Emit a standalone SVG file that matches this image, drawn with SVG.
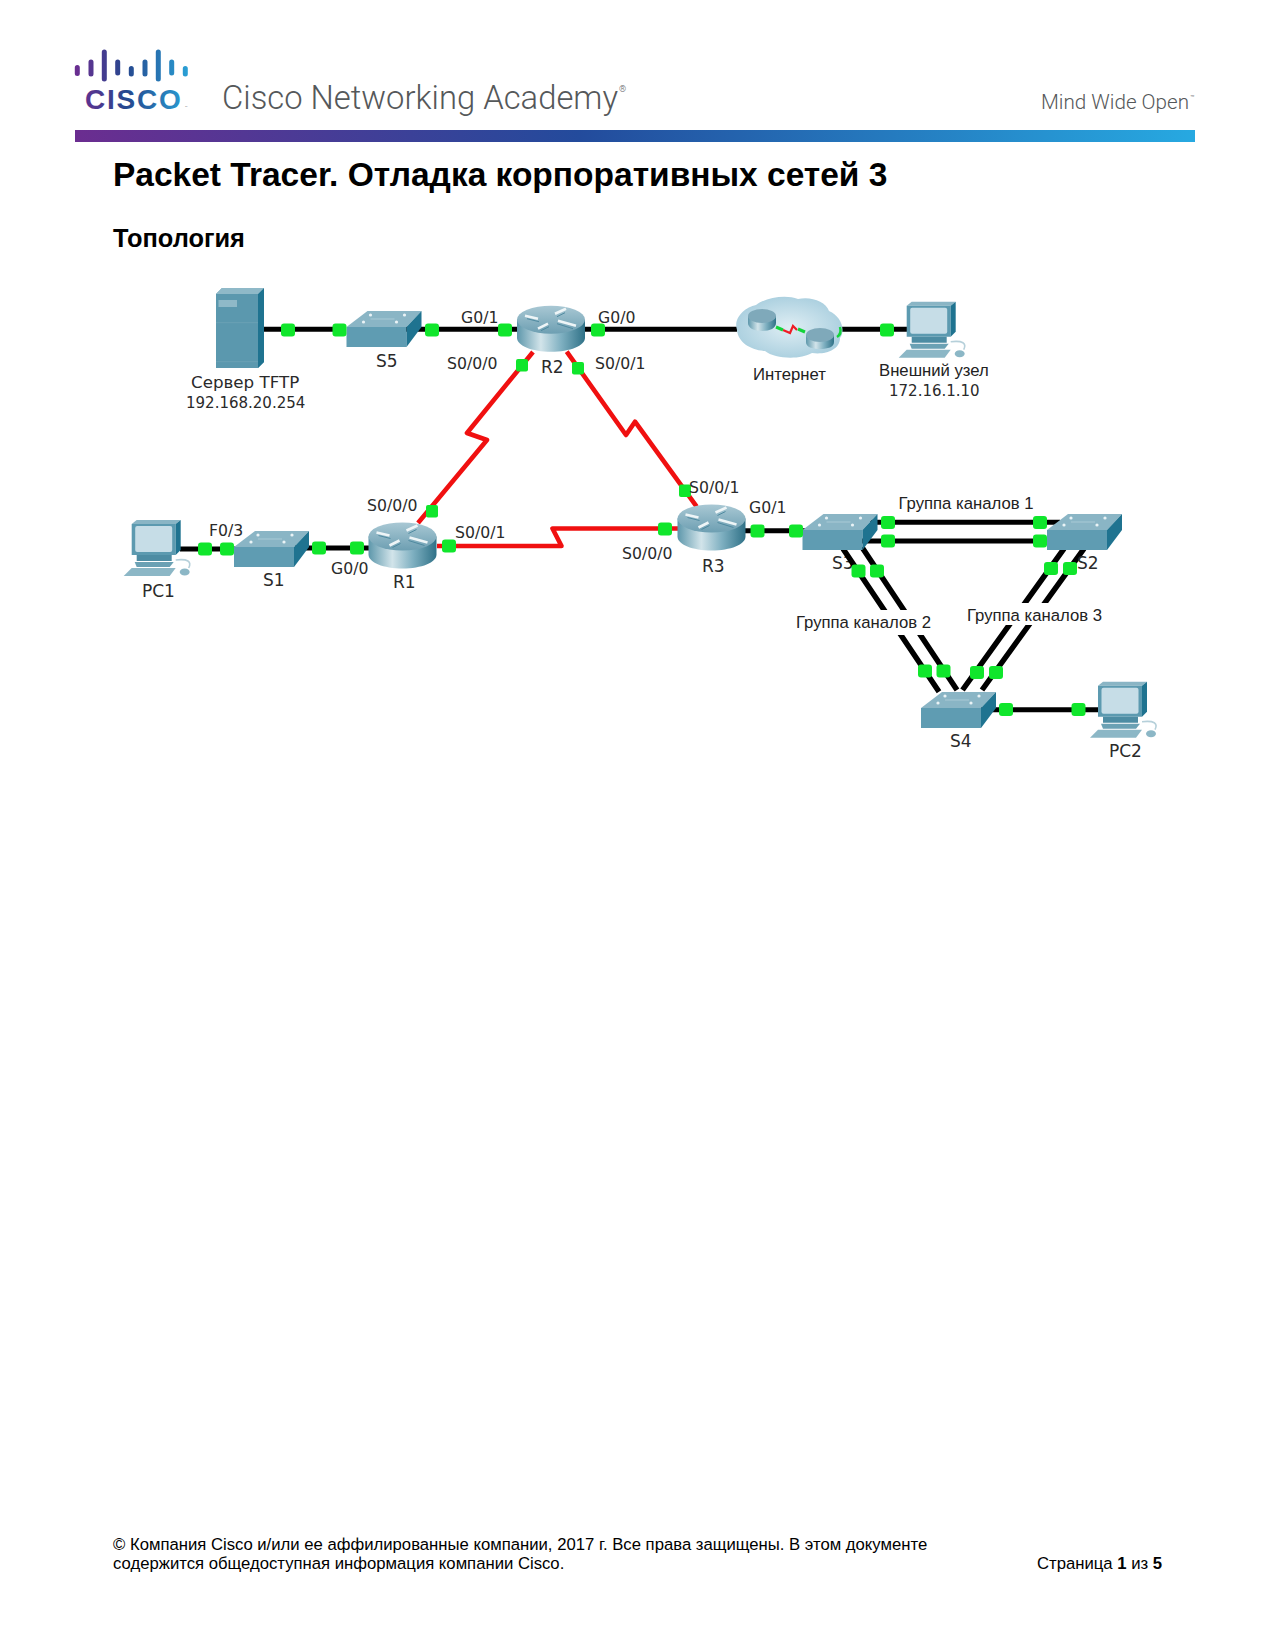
<svg xmlns="http://www.w3.org/2000/svg" width="1275" height="1651" viewBox="0 0 1275 1651">
<style>
text{font-family:"Liberation Sans",Arial,sans-serif;fill:#000}
.h{font-weight:bold}
.d{font-family:"DejaVu Sans",Verdana,sans-serif;font-size:15.700px;fill:#2a2a2a}
.n{font-size:17px}
.ip{font-size:15px;font-weight:500}
.g{font-size:16.700px;fill:#222}
.logo{font-family:Roboto,"Liberation Sans",sans-serif;font-weight:300;fill:#55585a}
.blk{fill:none;stroke:#000;stroke-width:5}
.diag{stroke-width:5.500}
.red{fill:none;stroke:#f01010;stroke-width:4.600;stroke-linejoin:round}
.ports rect{fill:#10e62c}
</style>
<defs>
<linearGradient id="bar"><stop offset="0" stop-color="#6b2d90"/><stop offset=".45" stop-color="#234b9c"/><stop offset="1" stop-color="#27a9e1"/></linearGradient>
<linearGradient id="logoG" gradientUnits="userSpaceOnUse" x1="75" x2="190" y1="0" y2="0"><stop offset="0" stop-color="#6b2d90"/><stop offset=".45" stop-color="#25488f"/><stop offset="1" stop-color="#2aa3d8"/></linearGradient>
<linearGradient id="rt"><stop offset="0" stop-color="#5d97ab"/><stop offset=".35" stop-color="#d2e4ea"/><stop offset=".65" stop-color="#7fb0c1"/><stop offset="1" stop-color="#2f7187"/></linearGradient>
<linearGradient id="rtop" x1="0" y1="0" x2="0" y2="1"><stop offset="0" stop-color="#a9c8d4"/><stop offset="1" stop-color="#6d9fb2"/></linearGradient>
<radialGradient id="cl" cx=".5" cy=".5" r=".6"><stop offset="0" stop-color="#dfeef4"/><stop offset="1" stop-color="#a3cbdc"/></radialGradient>
<g id="router">
<path d="M-34-9V9C-34 17-19 23 0 23S34 17 34 9V-9Z" fill="url(#rt)"/>
<ellipse cx="0" cy="-9" rx="34" ry="14" fill="url(#rtop)"/>
<path d="M-26-13L-13-10M4-15L15-20M7-8L25-3M-13 0L-3-5" stroke="#eef5f7" stroke-width="2.600" fill="none"/>
<path d="M-24-10L-12-7M6-12L14-16M6-5L22 0M-10 2L-2-2" stroke="#4f8aa0" stroke-width="1" fill="none"/>
</g>
<g id="switch">
<path d="M0 0H60V20H0Z" fill="#5f9cb2"/>
<path d="M0 0L21-16H75L60 0Z" fill="#8ab5c5"/>
<path d="M60 0L75-16V0L60 20Z" fill="#1f7390"/>
<g fill="#eaf3f6"><circle cx="24" cy="-12" r="1.600"/><circle cx="58" cy="-12" r="1.600"/><circle cx="17" cy="-5" r="1.600"/><circle cx="50" cy="-5" r="1.600"/></g>
<path d="M24-8H48" stroke="#a9cad6" stroke-width="1"/>
</g>
<g id="pc">
<path d="M0 4L5 0H49L44 4Z" fill="#8ab5c5"/>
<path d="M0 4H44V35H0Z" fill="#5c9ab0"/>
<path d="M44 4L49 0V30L44 35Z" fill="#1f7390"/>
<rect x="3.500" y="6" width="37" height="26" rx="2" fill="#c6dde7"/>
<path d="M5 35H40V41H5Z" fill="#4d8ca3"/>
<path d="M3 42H42L38 47H5Z" fill="#6ba1b4"/>
<path d="M0 48H44L38 56H-8Z" fill="#8cb7c6"/>
<path d="M44 40Q62 38 57 48" fill="none" stroke="#b6d0da" stroke-width="1.600"/>
<ellipse cx="53" cy="52" rx="5" ry="3.500" fill="#8cb7c6"/>
</g>
</defs>

<g id="header">
<path d="M77.300 67.500V73.500M91 62V74M104.300 52V79M117.700 62V73M131.300 68.500V74M145 62V74M158.300 52V79M171.700 62V73M185.300 68.500V74" stroke="url(#logoG)" stroke-linecap="round" stroke-width="5" fill="none"/>
<text x="85" y="109" font-size="28" font-weight="bold" style="fill:url(#logoG);letter-spacing:1.800px">CISCO</text>
<text class="logo" x="185" y="109" font-size="4">™</text>
<text class="logo" x="222" y="109" font-size="33" textLength="396" lengthAdjust="spacingAndGlyphs">Cisco Networking Academy</text>
<text class="logo" x="619" y="92" font-size="9">®</text>
<text class="logo" x="1041" y="109" font-size="20" textLength="148" lengthAdjust="spacingAndGlyphs">Mind Wide Open</text>
<text class="logo" x="1190" y="100" font-size="7">™</text>
<rect x="75" y="130" width="1120" height="12" fill="url(#bar)"/>
</g>
<text class="h" x="113" y="186" font-size="33.500">Packet Tracer. Отладка корпоративных сетей 3</text>
<text class="h" x="113" y="247" font-size="25.400">Топология</text>

<g id="labels-under">
<text class="d n" x="832" y="569">S3</text>
</g>

<g id="connectors">
<path class="blk" d="M262 329.300H346M406 329.300H520M580 329.300H737M840 329.300H910"/>
<path class="blk" d="M180 549H236M295 548H370"/>
<path class="blk" d="M744 530.700H805M870 522.300H1060M860 541H1050"/>
<path class="blk diag" d="M843 548.700L939 691.700M862 547.300L957 690M1064 548.700L962.500 690M1084 548.700L982 690"/>
<path class="blk" d="M978 709.700H1100"/>
<path class="red" d="M533 352L467 433L487 440L418 523"/>
<path class="red" d="M566.700 351.700L626 435L635 421.700L696.700 506.700"/>
<path class="red" d="M437 546H561.500L552.500 528.500H680"/>
</g>

<g id="Server"><path d="M216 294L222 288H264V362L258 368H216Z" fill="#5b98ae"/><path d="M258 294L264 288V362L258 368Z" fill="#1f7390"/><path d="M216 294L222 288H264L258 294Z" fill="#8fb9c8"/><rect x="218.500" y="300" width="18.500" height="7" fill="#8fb9c8"/><path d="M216 322.700H258M216 361.700H258" stroke="#6ba1b4" stroke-width="1"/><text class="d" style="font-size:16.700px" x="191" y="388">Сервер TFTP</text><text class="d ip" x="186" y="408">192.168.20.254</text></g>
<g id="S5"><use href="#switch" x="346.500" y="327"/><text class="d n" x="376" y="367">S5</text></g>
<g id="R2"><use href="#router" x="551" y="328.700"/><text class="d n" x="541" y="373">R2</text></g>
<g id="Internet">
<path d="M737 330C733 318 745 307 756 305C765 298 785 294 798 299C810 296 826 301 829 311C841 316 846 330 840 338C840 350 825 355 812 353C800 360 775 359 765 351C750 350 738 342 737 330Z" fill="url(#cl)"/>
<g><path d="M748 316V323C748 328 754 331 762 331S776 328 776 323V316Z" fill="url(#rt)"/><ellipse cx="762" cy="316" rx="14" ry="7" fill="#7fa9ba"/></g>
<path d="M783 330L790 333L793 326L797 330" fill="none" stroke="#ee1c25" stroke-width="2.200"/>
<path d="M776 327L783 330M798 329L805 332" stroke="#13d43a" stroke-width="3"/>
<g><path d="M806 335V342C806 347 812 349 820 349S834 347 834 342V335Z" fill="url(#rt)"/><ellipse cx="820" cy="335" rx="14" ry="7" fill="#7fa9ba"/></g>
<path d="M837 337Q842 334 840 327" stroke="#13d43a" stroke-width="2.500" fill="none"/>
<text class="g" x="753" y="380">Интернет</text>
</g>
<g id="ExternalHost"><use href="#pc" x="906.700" y="301.700"/><text class="g" x="879" y="376">Внешний узел</text><text class="d ip" x="889" y="396">172.16.1.10</text></g>
<g id="PC1"><use href="#pc" x="131.700" y="520"/><text class="d n" x="142" y="597">PC1</text></g>
<g id="S1"><use href="#switch" x="234" y="547"/><text class="d n" x="263" y="586">S1</text></g>
<g id="R1"><use href="#router" x="402.500" y="545.500"/><text class="d n" x="393" y="588">R1</text></g>
<g id="R3"><use href="#router" x="711.500" y="527.500"/><text class="d n" x="702" y="572">R3</text></g>
<g id="S3"><use href="#switch" x="802.500" y="530"/></g>
<g id="S2"><use href="#switch" x="1047" y="530"/><text class="d n" x="1077" y="569">S2</text></g>
<g id="S4"><use href="#switch" x="921" y="708"/><text class="d n" x="950" y="747">S4</text></g>
<g id="PC2"><use href="#pc" x="1098" y="681.700"/><text class="d n" x="1109" y="757">PC2</text></g>

<g id="ports" class="ports">
<rect x="281" y="323.500" width="14" height="13" rx="3"/><rect x="332.500" y="323.500" width="14" height="13" rx="3"/><rect x="425" y="323.500" width="14" height="13" rx="3"/><rect x="498" y="323.500" width="14" height="13" rx="3"/><rect x="591" y="323.500" width="14" height="13" rx="3"/><rect x="880" y="323.500" width="14" height="13" rx="3"/>
<rect x="516" y="359" width="12" height="12.500" rx="2"/><rect x="572" y="362" width="12" height="12.500" rx="2"/><rect x="426" y="505" width="12" height="12.500" rx="2"/><rect x="679" y="484.500" width="12" height="12.500" rx="2"/>
<rect x="198" y="542.500" width="14" height="13" rx="3"/><rect x="220" y="542.500" width="14" height="13" rx="3"/><rect x="312" y="541.500" width="14" height="13" rx="3"/><rect x="350" y="541.500" width="14" height="13" rx="3"/><rect x="442" y="539.500" width="14" height="13" rx="3"/>
<rect x="658" y="522.500" width="14" height="13" rx="3"/><rect x="750.500" y="524.500" width="14" height="13" rx="3"/><rect x="789" y="524.500" width="14" height="13" rx="3"/>
<rect x="881" y="516" width="14" height="13" rx="3"/><rect x="881" y="534.500" width="14" height="13" rx="3"/><rect x="1033" y="516" width="14" height="13" rx="3"/><rect x="1033" y="534.500" width="14" height="13" rx="3"/>
<rect x="851.500" y="564.500" width="14" height="13" rx="3"/><rect x="870" y="564.500" width="14" height="13" rx="3"/><rect x="1044" y="562" width="14" height="13" rx="3"/><rect x="1063" y="562" width="14" height="13" rx="3"/>
<rect x="918" y="664.500" width="14" height="13" rx="3"/><rect x="936.500" y="664.500" width="14" height="13" rx="3"/><rect x="970" y="666" width="14" height="13" rx="3"/><rect x="989" y="666" width="14" height="13" rx="3"/>
<rect x="999" y="703" width="14" height="13" rx="3"/><rect x="1071.500" y="703" width="14" height="13" rx="3"/>
</g>

<g id="link-labels">
<text class="d" x="461" y="323">G0/1</text><text class="d" x="598" y="323">G0/0</text><text class="d" x="447" y="369">S0/0/0</text><text class="d" x="595" y="369">S0/0/1</text>
<text class="d" x="367" y="511">S0/0/0</text><text class="d" x="455" y="538">S0/0/1</text><text class="d" x="209" y="536">F0/3</text><text class="d" x="331" y="574">G0/0</text>
<text class="d" x="689" y="493">S0/0/1</text><text class="d" x="749" y="513">G0/1</text><text class="d" x="622" y="559">S0/0/0</text>
<rect x="795" y="610" width="135" height="25" fill="#fff"/><rect x="966" y="603" width="135" height="22" fill="#fff"/>
<text class="g" x="898.500" y="509">Группа каналов 1</text><text class="g" x="796" y="628">Группа каналов 2</text><text class="g" x="967" y="621">Группа каналов 3</text>
</g>

<g id="footer" font-size="16.700">
<text x="113" y="1550">© Компания Cisco и/или ее аффилированные компании, 2017 г. Все права защищены. В этом документе</text>
<text x="113" y="1569">содержится общедоступная информация компании Cisco.</text>
<text x="1037" y="1569">Страница <tspan class="h">1</tspan> из <tspan class="h">5</tspan></text>
</g>
</svg>
